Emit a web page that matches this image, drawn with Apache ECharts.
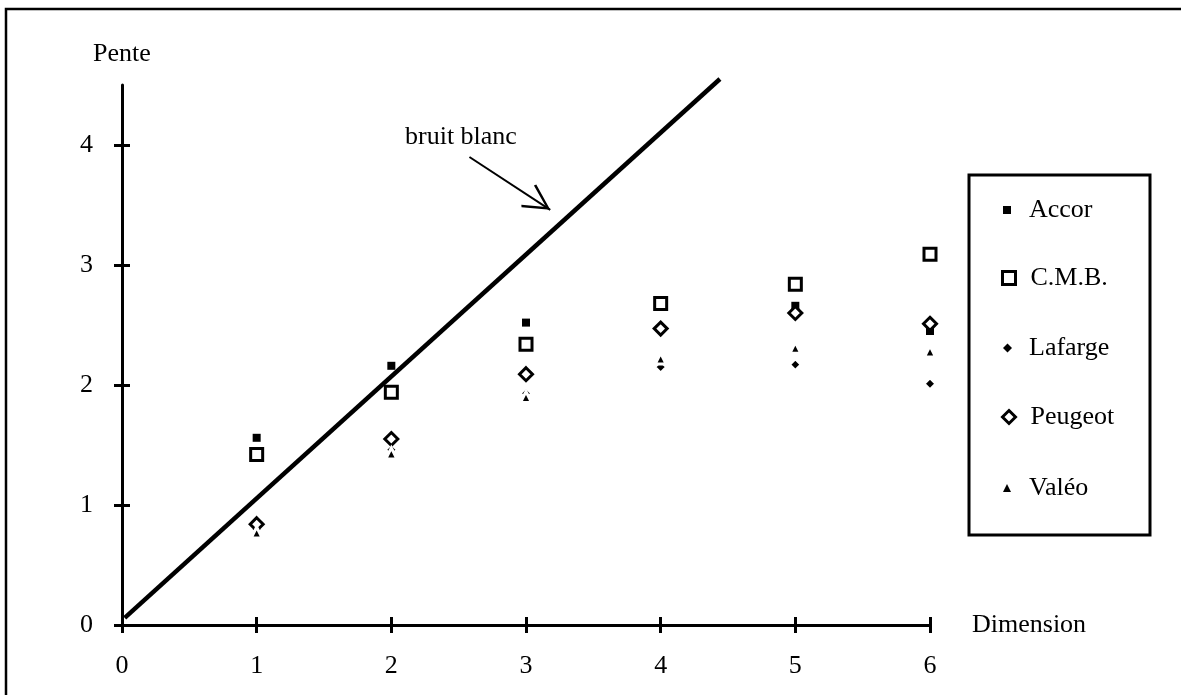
<!DOCTYPE html>
<html>
<head>
<meta charset="utf-8">
<script src="https://cdn.jsdelivr.net/npm/echarts@6/dist/echarts.min.js"></script>
<style>html,body{margin:0;padding:0;background:#fff;}#c{width:1181px;height:695px;}</style>
</head>
<body>
<div id="c"></div>
<script>
// ---- data ----
const dims = [1, 2, 3, 4, 5, 6];
const accor   = [1.56, 2.16, 2.52, 2.68, 2.66, 2.45];
const cmb     = [1.42, 1.94, 2.34, 2.68, 2.84, 3.09];
const lafarge = [0.80, 1.46, 1.93, 2.15, 2.17, 2.01];
const peugeot = [0.84, 1.55, 2.09, 2.47, 2.60, 2.51];
const valeo   = [0.77, 1.43, 1.90, 2.22, 2.31, 2.28];
const bruitBlanc = [[0.02, 0.06], [4.44, 4.55]];
const arrowFrom = [2.58, 3.90];
const arrowTo = [3.18, 3.46];
const xTicks = [0, 1, 2, 3, 4, 5, 6];
const yTicks = [0, 1, 2, 3, 4];
const seriesNames = ['Accor', 'C.M.B.', 'Lafarge', 'Peugeot', 'Valéo'];

const FONT = 'Liberation Serif';
const pts = arr => dims.map((d, i) => [d, arr[i]]);

const chart = echarts.init(document.getElementById('c'), null, {renderer: 'canvas'});

const baseX = {
  type: 'value', min: 0, max: 6, interval: 1, gridIndex: 0, position: 'bottom',
  splitLine: {show: false}
};
const baseY = {
  type: 'value', min: 0, max: 4.5, interval: 1, gridIndex: 0, position: 'left',
  splitLine: {show: false}
};

// legend specs
const legendSpec = [
  {name: seriesNames[0], size: 8, cy: 210, style: {color: '#000', borderWidth: 0}},
  {name: seriesNames[1], size: 13, cy: 278, style: {color: '#fff', borderColor: '#000', borderWidth: 3}},
  {name: seriesNames[2], size: 9, cy: 348, style: {color: '#000', borderWidth: 0}},
  {name: seriesNames[3], size: 13, cy: 417, style: {color: '#fff', borderColor: '#000', borderWidth: 3}},
  {name: seriesNames[4], size: 8, cy: 488, style: {color: '#000', borderWidth: 0}}
];

const ICON_CX = 1007, TEXT_LEFT = 1029;
const legends = legendSpec.map(l => ({
  data: [l.name],
  orient: 'vertical',
  left: Math.round(ICON_CX - l.size / 2),
  top: l.cy - 19,
  padding: 0,
  itemWidth: l.size,
  itemHeight: l.size,
  selectedMode: false,
  itemStyle: l.style,
  textStyle: {
    fontFamily: FONT, fontSize: 26, color: '#000', lineHeight: 26,
    padding: [12, 0, 0, TEXT_LEFT - Math.round(ICON_CX - l.size / 2) - l.size - 5]
  }
}));

const option = {
  animation: false,
  backgroundColor: '#fff',
  grid: {left: 122, top: 85, width: 808, height: 540},
  legend: legends,
  xAxis: [
    Object.assign({}, baseX, {
      name: 'Dimension', nameLocation: 'end', nameGap: 42,
      nameTextStyle: {fontFamily: FONT, fontSize: 26, color: '#000'},
      axisLine: {show: true, onZero: false, lineStyle: {color: '#000', width: 3}},
      axisTick: {show: true, inside: false, length: 8, lineStyle: {color: '#000', width: 3}},
      axisLabel: {fontFamily: FONT, fontSize: 26, color: '#000', margin: 28, customValues: xTicks},
    }),
    Object.assign({}, baseX, {
      axisLine: {show: false, onZero: false},
      axisTick: {show: true, inside: true, length: 8, lineStyle: {color: '#000', width: 3}},
      axisLabel: {show: false}
    })
  ],
  yAxis: [
    Object.assign({}, baseY, {
      name: 'Pente', nameLocation: 'end', nameGap: 18,
      nameTextStyle: {fontFamily: FONT, fontSize: 26, color: '#000'},
      axisLine: {show: true, onZero: false, lineStyle: {color: '#000', width: 3}},
      axisTick: {show: true, inside: false, length: 8, customValues: yTicks, lineStyle: {color: '#000', width: 3}},
      axisLabel: {fontFamily: FONT, fontSize: 26, color: '#000', margin: 29, customValues: yTicks}
    }),
    Object.assign({}, baseY, {
      axisLine: {show: false, onZero: false},
      axisTick: {show: true, inside: true, length: 8, customValues: yTicks, lineStyle: {color: '#000', width: 3}},
      axisLabel: {show: false}
    })
  ],
  graphic: [
    {type: 'rect', silent: true, z: 100, shape: {x: 6, y: 9, width: 1200, height: 720},
     style: {fill: 'none', stroke: '#000', lineWidth: 2.5}},
    {type: 'rect', silent: true, z: 100, shape: {x: 969, y: 175, width: 181, height: 360},
     style: {fill: 'none', stroke: '#000', lineWidth: 3}},
    {type: 'text', silent: true, z: 100, x: 405, y: 137,
     style: {text: 'bruit blanc', fontFamily: FONT, fontSize: 26, fill: '#000', align: 'left', verticalAlign: 'middle'}}
  ],
  series: [
    {
      name: 'bruit blanc', type: 'line', data: bruitBlanc, showSymbol: false, silent: true, clip: false,
      lineStyle: {color: '#000', width: 4.5}, z: 1,
      markLine: {
        silent: true, symbol: ['none', 'path://M13.5,0 L27,25.5 L25,27 L13.5,5 L2,27 L0,25.5 Z'],
        symbolSize: [27, 27], symbolOffset: [[0, 0], [0, 13.5]],
        label: {show: false},
        lineStyle: {color: '#000', width: 2, type: 'solid'},
        data: [[{coord: arrowFrom}, {coord: arrowTo}]]
      }
    },
    {name: 'Accor', type: 'scatter', data: pts(accor), symbol: 'rect', symbolSize: 8,
     itemStyle: {color: '#000', opacity: 1}, z: 2},
    {name: 'C.M.B.', type: 'scatter', data: pts(cmb), symbol: 'rect', symbolSize: 12,
     itemStyle: {color: '#fff', borderColor: '#000', borderWidth: 3, opacity: 1}, z: 3},
    {name: 'Lafarge', type: 'scatter', data: pts(lafarge), symbol: 'diamond', symbolSize: 12,
     itemStyle: {color: '#000', borderColor: '#fff', borderWidth: 3, opacity: 1}, z: 4},
    {name: 'Peugeot', type: 'scatter', data: pts(peugeot), symbol: 'diamond', symbolSize: 13,
     itemStyle: {color: '#fff', borderColor: '#000', borderWidth: 3, opacity: 1}, z: 5},
    {name: 'Valéo', type: 'scatter', data: pts(valeo), symbol: 'triangle', symbolSize: 11,
     itemStyle: {color: '#000', borderColor: '#fff', borderWidth: 3, opacity: 1}, z: 6}
  ]
};
chart.setOption(option);
</script>
</body>
</html>
